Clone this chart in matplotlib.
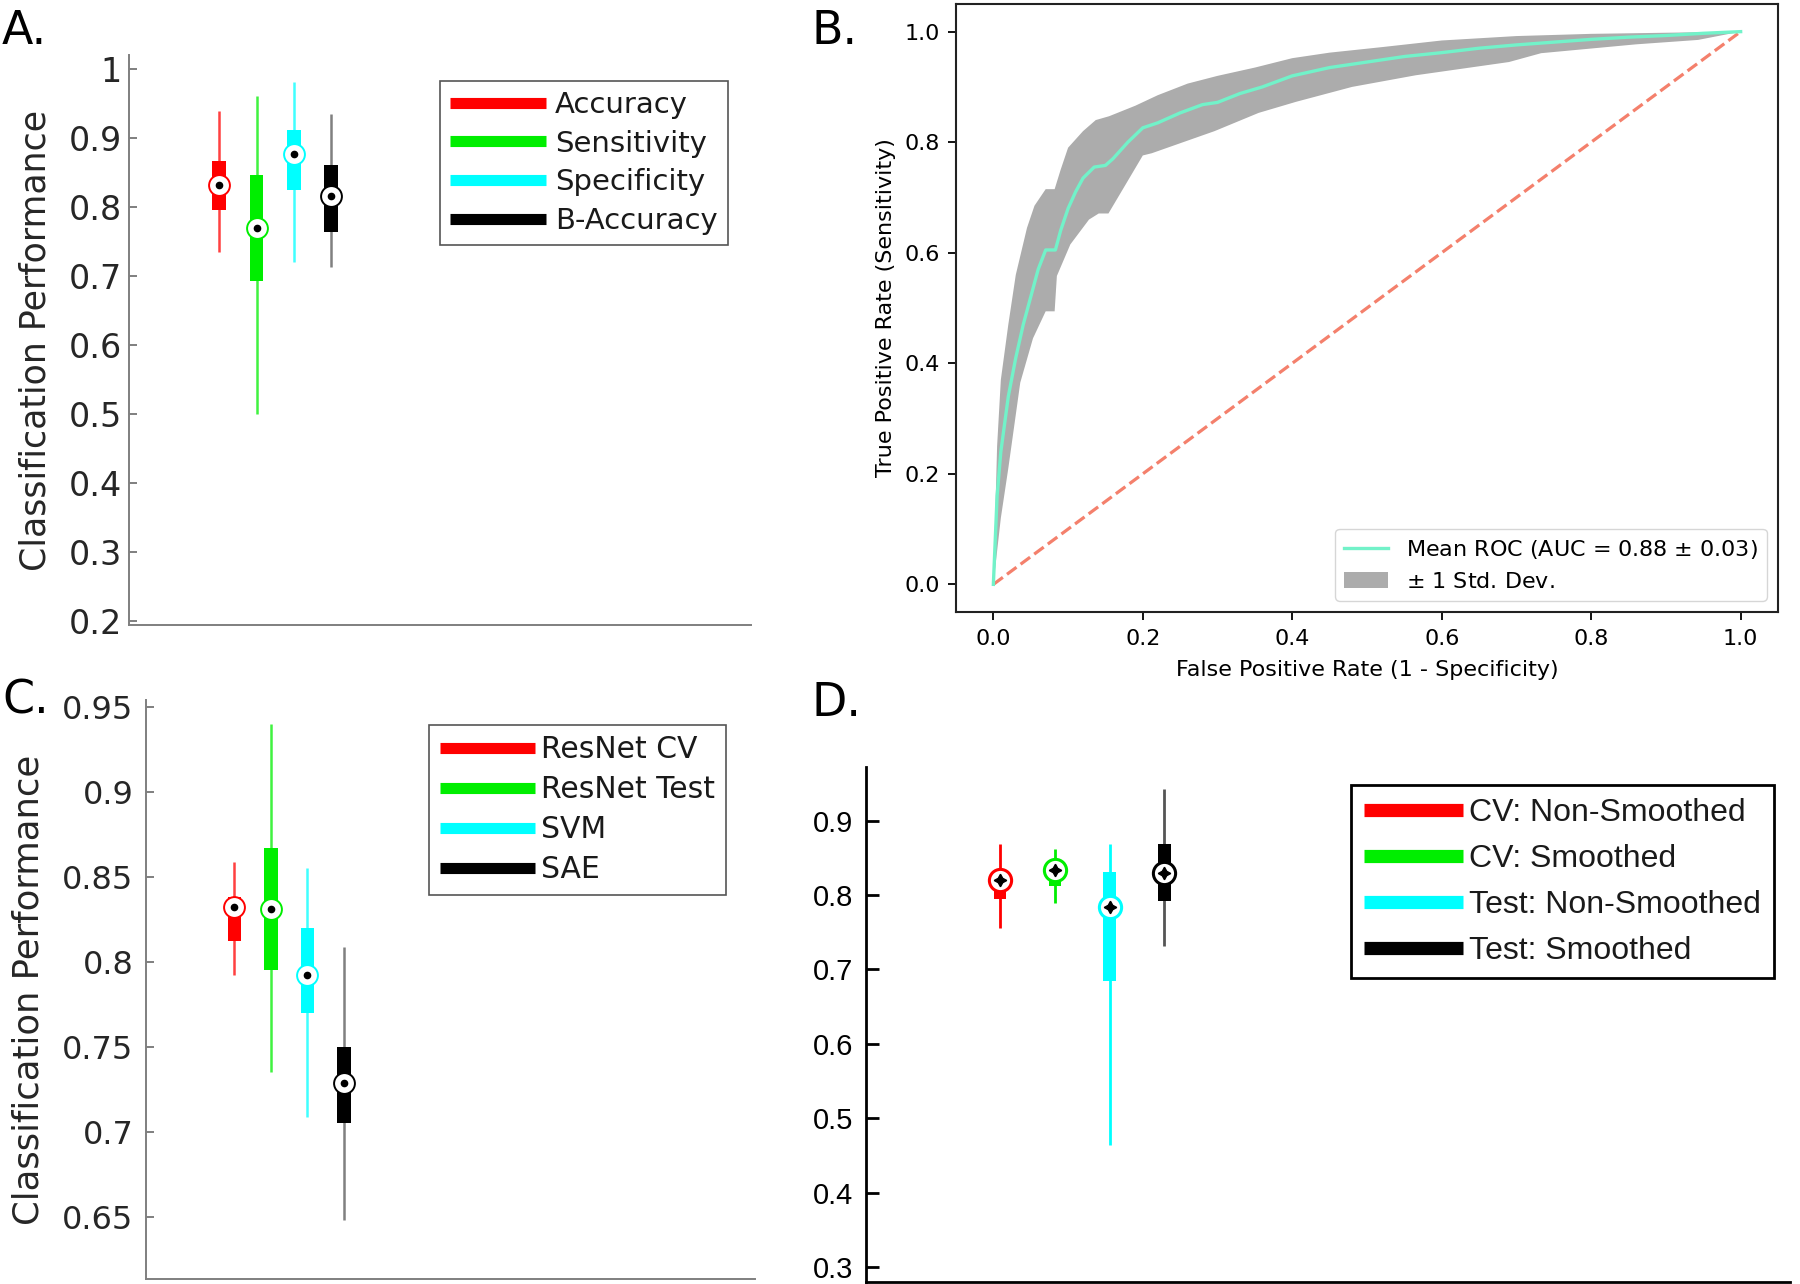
import matplotlib
matplotlib.use('Agg')
import matplotlib.pyplot as plt
from matplotlib.lines import Line2D
from matplotlib import font_manager as fm
import numpy as np

# ---------------- data ----------------
a_labels = ['Accuracy', 'Sensitivity', 'Specificity', 'B-Accuracy']
a_median = [0.831, 0.769, 0.877, 0.815]
a_q1 = [0.795, 0.692, 0.825, 0.764]
a_q3 = [0.866, 0.846, 0.912, 0.860]
a_lo = [0.735, 0.500, 0.720, 0.713]
a_hi = [0.939, 0.960, 0.981, 0.935]
a_yticks = [0.2, 0.3, 0.4, 0.5, 0.6, 0.7, 0.8, 0.9, 1.0]
a_yticklabels = ['0.2', '0.3', '0.4', '0.5', '0.6', '0.7', '0.8', '0.9', '1']

c_labels = ['ResNet CV', 'ResNet Test', 'SVM', 'SAE']
c_median = [0.832, 0.831, 0.7925, 0.729]
c_q1 = [0.812, 0.795, 0.770, 0.705]
c_q3 = [0.838, 0.867, 0.820, 0.750]
c_lo = [0.792, 0.735, 0.709, 0.648]
c_hi = [0.859, 0.940, 0.855, 0.809]
c_yticks = [0.65, 0.7, 0.75, 0.8, 0.85, 0.9, 0.95]
c_yticklabels = ['0.65', '0.7', '0.75', '0.8', '0.85', '0.9', '0.95']

d_labels = ['CV: Non-Smoothed', 'CV: Smoothed', 'Test: Non-Smoothed', 'Test: Smoothed']
d_median = [0.820, 0.834, 0.784, 0.830]
d_q1 = [0.795, 0.812, 0.685, 0.792]
d_q3 = [0.830, 0.845, 0.831, 0.869]
d_lo = [0.755, 0.789, 0.464, 0.732]
d_hi = [0.868, 0.862, 0.868, 0.942]
d_yticks = [0.3, 0.4, 0.5, 0.6, 0.7, 0.8, 0.9]

box_colors = ['#ff0000', '#00ee00', '#00ffff', '#000000']

roc_fpr = [0, 0.005, 0.01, 0.02, 0.03, 0.04, 0.05, 0.06, 0.07, 0.083, 0.09, 0.10,
           0.11, 0.12, 0.135, 0.15, 0.16, 0.18, 0.20, 0.22, 0.25, 0.28, 0.30, 0.33,
           0.36, 0.40, 0.45, 0.50, 0.55, 0.60, 0.65, 0.70, 0.75, 0.80, 0.85, 0.90,
           0.95, 1.0]
roc_mean = [0, 0.16, 0.24, 0.34, 0.41, 0.47, 0.52, 0.57, 0.605, 0.605, 0.64, 0.68,
            0.71, 0.735, 0.755, 0.758, 0.77, 0.80, 0.826, 0.835, 0.853, 0.868, 0.872,
            0.888, 0.90, 0.92, 0.935, 0.945, 0.955, 0.962, 0.970, 0.976, 0.981, 0.986,
            0.99, 0.993, 0.997, 1.0]
upper_fpr = [0, 0.005, 0.01, 0.02, 0.03, 0.045, 0.055, 0.07, 0.082, 0.09, 0.10, 0.12,
             0.137, 0.155, 0.19, 0.22, 0.26, 0.30, 0.35, 0.40, 0.45, 0.52, 0.60, 0.70,
             0.80, 0.90, 1.0]
upper_tpr = [0, 0.25, 0.37, 0.47, 0.56, 0.645, 0.685, 0.715, 0.715, 0.75, 0.79, 0.82,
             0.84, 0.847, 0.866, 0.885, 0.906, 0.92, 0.935, 0.952, 0.962, 0.972, 0.984,
             0.992, 0.996, 0.998, 1.0]
lower_fpr = [0, 0.01, 0.02, 0.036, 0.053, 0.07, 0.082, 0.085, 0.103, 0.128, 0.141,
             0.154, 0.179, 0.20, 0.212, 0.254, 0.296, 0.355, 0.405, 0.48, 0.565, 0.69,
             0.733, 0.86, 0.943, 1.0]
lower_tpr = [0, 0.12, 0.21, 0.365, 0.445, 0.494, 0.494, 0.558, 0.615, 0.66, 0.671,
             0.671, 0.728, 0.776, 0.78, 0.80, 0.82, 0.853, 0.873, 0.90, 0.921, 0.945,
             0.961, 0.977, 0.985, 1.0]
roc_label = 'Mean ROC (AUC = 0.88 $\\pm$ 0.03)'
band_label = '$\\pm$ 1 Std. Dev.'

# ---------------- fonts ----------------
names = {f.name for f in fm.fontManager.ttflist}
if 'Liberation Sans Narrow' in names:
    dfont, d_leg_fs, d_tick_fs = 'Liberation Sans Narrow', 28, 25
else:
    dfont, d_leg_fs, d_tick_fs = 'Liberation Sans', 23, 21

plt.rcParams['font.family'] = ['DejaVu Sans']

W, H = 1800, 1284
fig = plt.figure(figsize=(W / 100, H / 100), dpi=100)


def px_axes(l, r, t, b):
    return fig.add_axes([l / W, 1 - b / H, (r - l) / W, (b - t) / H])


def draw_boxes(ax, med, q1, q3, lo, hi, box_w, wlw, ms, mew, dot_ms, dot_marker, whisk_alpha):
    pos = np.arange(1, len(med) + 1)
    for p, m, a, b, l, h, c in zip(pos, med, q1, q3, lo, hi, box_colors):
        wc = '#555555' if c == '#000000' else c
        ax.vlines(p, l, h, colors=wc, lw=wlw, alpha=whisk_alpha, zorder=2)
        ax.bar(p, b - a, bottom=a, width=box_w, color=c, zorder=3)
        ax.plot(p, m, 'o', ms=ms, mfc='white', mec=c, mew=mew, zorder=4)
        ax.plot(p, m, marker=dot_marker, ms=dot_ms, color='black', ls='none', zorder=5)


def matlab_style(ax, ylim, yticks, yticklabels, fs, pad, spine_col, lw, tick_col):
    ax.set_xlim(-1.417, 15.25)
    ax.set_ylim(*ylim)
    ax.set_xticks([])
    ax.set_yticks(yticks)
    if yticklabels is not None:
        ax.set_yticklabels(yticklabels)
    for s in ['top', 'right']:
        ax.spines[s].set_visible(False)
    for s in ['left', 'bottom']:
        ax.spines[s].set_color(spine_col)
        ax.spines[s].set_linewidth(lw)
    ax.tick_params(axis='y', direction='in', length=6, width=lw, color=spine_col,
                   labelsize=fs, labelcolor=tick_col, pad=pad)


def box_legend(ax, labels, x0, ytop, fs, family, hl, lw, edge, edgelw, ls, bp, htp):
    handles = [Line2D([], [], color=c, lw=lw, solid_capstyle='butt') for c in box_colors]
    leg = ax.legend(handles, labels, loc='upper left', bbox_to_anchor=(x0, ytop),
                    borderaxespad=0, fancybox=False, framealpha=1, edgecolor=edge,
                    handlelength=hl, handletextpad=htp, labelspacing=ls, borderpad=bp,
                    prop={'family': family, 'size': fs})
    leg.get_frame().set_linewidth(edgelw)
    for t in leg.get_texts():
        t.set_color('#1a1a1a')
    return leg


# ---------------- Panel A ----------------
axA = px_axes(129, 751, 55, 625)
matlab_style(axA, (0.194, 1.02), a_yticks, a_yticklabels, 24, 5, '#7f7f7f', 1.4, '#262626')
draw_boxes(axA, a_median, a_q1, a_q3, a_lo, a_hi, 0.37, 1.8, 15, 1.4, 4.5, 'o', 0.75)
axA.set_ylabel('Classification Performance', fontsize=25, color='#262626', labelpad=12)
box_legend(axA, a_labels, 0.50, 0.955, 21, 'DejaVu Sans', 3.3, 8, '#555555', 1.2, 0.37, 0.35, 0.3)

# ---------------- Panel C ----------------
axC = px_axes(146, 755, 700, 1279)
matlab_style(axC, (0.6135, 0.954), c_yticks, c_yticklabels, 23, 9, '#7f7f7f', 1.4, '#262626')
draw_boxes(axC, c_median, c_q1, c_q3, c_lo, c_hi, 0.37, 1.8, 15, 1.4, 4.5, 'o', 0.75)
axC.set_ylabel('Classification Performance', fontsize=25.5, color='#262626', labelpad=12)
box_legend(axC, c_labels, 0.465, 0.957, 21.5, 'DejaVu Sans', 3.2, 8, '#555555', 1.2, 0.37, 0.35, 0.2)

# ---------------- Panel D ----------------
axD = px_axes(866, 1790, 767, 1282)
matlab_style(axD, (0.28, 0.972), d_yticks, None, d_tick_fs, 9, 'black', 2.0, 'black')
axD.set_xlim(-1.445, 15.41)
axD.yaxis.set_major_formatter(matplotlib.ticker.FormatStrFormatter('%.1f'))
axD.tick_params(axis='y', length=9)
for t in axD.get_yticklabels():
    t.set_family(dfont)
draw_boxes(axD, d_median, d_q1, d_q3, d_lo, d_hi, 0.23, 2.0, 16, 2.2, 9, (4, 1, 0), 1.0)
box_legend(axD, d_labels, 0.525, 0.965, d_leg_fs, dfont, 3.1, 9.5, 'black', 2.0, 0.5, 0.4, 0.2)

# ---------------- Panel B ----------------
axB = px_axes(956, 1778, 4, 612)
axB.plot([0, 1], [0, 1], ls='--', lw=2.3, color='#f4806c', zorder=1)
axB.fill(np.concatenate([upper_fpr, lower_fpr[::-1]]),
         np.concatenate([upper_tpr, lower_tpr[::-1]]),
         color='grey', alpha=0.65, lw=0, label=band_label, zorder=2)
axB.plot(roc_fpr, roc_mean, color='#72f2c9', lw=2.4, label=roc_label, zorder=3)
axB.set_xlim(-0.05, 1.05)
axB.set_ylim(-0.05, 1.05)
axB.set_xticks([0, 0.2, 0.4, 0.6, 0.8, 1.0])
axB.set_yticks([0, 0.2, 0.4, 0.6, 0.8, 1.0])
axB.tick_params(labelsize=16, length=5.5, width=1.3)
axB.tick_params(axis='x', pad=7)
axB.tick_params(axis='y', pad=6)
for s in axB.spines.values():
    s.set_linewidth(1.5)
    s.set_color('#222222')
axB.set_xlabel('False Positive Rate (1 - Specificity)', fontsize=16, labelpad=8)
axB.set_ylabel('True Positive Rate (Sensitivity)', fontsize=16, labelpad=6)
h, l = axB.get_legend_handles_labels()
axB.legend(h[::-1], l[::-1], loc='lower right', fontsize=16)

# ---------------- panel letters ----------------
for txt, x, y in [('A.', 2, 31), ('B.', 812, 31), ('C.', 2, 701), ('D.', 812, 703)]:
    fig.text(x / W, 1 - y / H, txt, fontsize=33, ha='left', va='center', color='black')

fig.savefig('out.png', dpi=100)
